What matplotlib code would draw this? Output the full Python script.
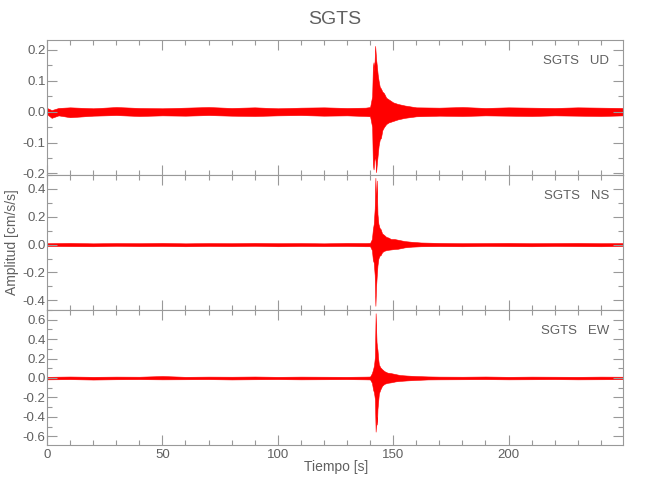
import numpy as np
import matplotlib.pyplot as plt
from matplotlib.ticker import MultipleLocator

plt.rcParams['font.family'] = ['Liberation Sans', 'DejaVu Sans']

# estacion y componentes
station = 'SGTS'
comps = ['UD', 'NS', 'EW']

# envolventes (tiempo [s], max y min [cm/s/s])
t_ud = [0, 2, 5, 10, 20, 30, 40, 50, 60, 70, 80, 90, 100, 110, 120, 130, 138, 140, 140.9, 141.2, 141.5, 141.8,
        142.2, 142.6, 142.9, 143.3, 143.7, 144.2, 144.7, 145.3, 146, 147, 148, 150, 152, 155, 160, 170, 180,
        190, 200, 210, 220, 230, 240, 250]
up_ud = [0.012, 0.005, 0.012, 0.014, 0.011, 0.015, 0.012, 0.011, 0.013, 0.015, 0.012, 0.014, 0.011, 0.013,
         0.014, 0.012, 0.013, 0.015, 0.05, 0.145, 0.16, 0.13, 0.213, 0.17, 0.15, 0.12, 0.1, 0.08, 0.075, 0.065,
         0.06, 0.045, 0.04, 0.03, 0.025, 0.02, 0.014, 0.013, 0.015, 0.012, 0.014, 0.013, 0.012, 0.014, 0.013, 0.012]
lo_ud = [-0.008, -0.02, -0.012, -0.018, -0.013, -0.011, -0.014, -0.012, -0.013, -0.011, -0.013, -0.014,
         -0.012, -0.011, -0.013, -0.012, -0.014, -0.015, -0.05, -0.17, -0.187, -0.16, -0.14, -0.196, -0.17,
         -0.14, -0.11, -0.09, -0.085, -0.06, -0.05, -0.04, -0.035, -0.03, -0.025, -0.02, -0.015, -0.013,
         -0.014, -0.012, -0.013, -0.014, -0.012, -0.013, -0.014, -0.012]

t_ns = [0, 10, 20, 30, 40, 50, 60, 70, 80, 90, 100, 110, 120, 130, 138, 140, 140.8, 141.2, 141.6, 142.0,
        142.3, 142.6, 142.9, 143.2, 143.6, 144.1, 144.6, 145.2, 146, 147, 148, 149, 150.5, 152, 155, 158,
        162, 170, 180, 190, 200, 210, 220, 230, 240, 250]
up_ns = [0.01, 0.012, 0.009, 0.011, 0.01, 0.012, 0.009, 0.011, 0.01, 0.012, 0.01, 0.011, 0.009, 0.012,
         0.011, 0.012, 0.04, 0.11, 0.15, 0.26, 0.48, 0.27, 0.46, 0.22, 0.15, 0.12, 0.11, 0.08, 0.07, 0.055,
         0.05, 0.04, 0.04, 0.035, 0.025, 0.02, 0.015, 0.012, 0.01, 0.011, 0.012, 0.01, 0.011, 0.012, 0.01, 0.011]
lo_ns = [-0.01, -0.011, -0.012, -0.009, -0.011, -0.01, -0.012, -0.01, -0.011, -0.009, -0.012, -0.01,
         -0.011, -0.01, -0.012, -0.012, -0.04, -0.11, -0.13, -0.22, -0.44, -0.3, -0.22, -0.15, -0.1, -0.08,
         -0.075, -0.055, -0.045, -0.04, -0.037, -0.035, -0.032, -0.03, -0.02, -0.015, -0.012, -0.011, -0.012,
         -0.01, -0.011, -0.012, -0.01, -0.011, -0.012, -0.01]

t_ew = [0, 10, 20, 30, 40, 50, 60, 70, 80, 90, 100, 110, 120, 130, 138, 140, 140.8, 141.3, 141.7, 142.1,
        142.4, 142.8, 143.0, 143.2, 143.5, 143.8, 144.4, 145.2, 146.2, 147.5, 149, 151, 153, 156, 160, 165,
        170, 180, 190, 200, 210, 220, 230, 240, 250]
up_ew = [0.012, 0.015, 0.012, 0.014, 0.013, 0.02, 0.012, 0.014, 0.013, 0.015, 0.012, 0.014, 0.013, 0.012,
         0.014, 0.015, 0.05, 0.09, 0.13, 0.22, 0.667, 0.37, 0.32, 0.29, 0.2, 0.14, 0.11, 0.09, 0.07, 0.055,
         0.05, 0.04, 0.03, 0.025, 0.02, 0.016, 0.014, 0.013, 0.015, 0.012, 0.014, 0.013, 0.012, 0.014, 0.013]
lo_ew = [-0.014, -0.012, -0.016, -0.013, -0.012, -0.014, -0.013, -0.012, -0.015, -0.013, -0.012, -0.014,
         -0.013, -0.012, -0.014, -0.015, -0.05, -0.12, -0.15, -0.22, -0.553, -0.4, -0.48, -0.32, -0.24, -0.16,
         -0.12, -0.08, -0.06, -0.05, -0.045, -0.035, -0.03, -0.025, -0.02, -0.015, -0.014, -0.013, -0.012,
         -0.014, -0.013, -0.012, -0.014, -0.013, -0.012]

traces = [(t_ud, up_ud, lo_ud), (t_ns, up_ns, lo_ns), (t_ew, up_ew, lo_ew)]

ylims = [(-0.205, 0.232), (-0.47, 0.50), (-0.69, 0.70)]
ymajor = [0.1, 0.2, 0.2]
yminor = [0.05, 0.1, 0.1]

gris = '#999999'
texto = '#606060'

fig = plt.figure(figsize=(6.5, 5), dpi=100)
bottoms = [0.65, 0.38, 0.11]

for i in range(3):
    ax = fig.add_axes([0.0723, bottoms[i], 0.8862, 0.27])
    t, up, lo = traces[i]
    ax.fill_between(t, lo, up, color='red', lw=0.4, edgecolor='red')
    ax.set_xlim(0, 249.6)
    ax.set_ylim(*ylims[i])
    ax.xaxis.set_major_locator(MultipleLocator(50))
    ax.xaxis.set_minor_locator(MultipleLocator(10))
    ax.yaxis.set_major_locator(MultipleLocator(ymajor[i]))
    ax.yaxis.set_minor_locator(MultipleLocator(yminor[i]))
    ax.yaxis.set_major_formatter(lambda v, p: f'{v:.1f}')
    ax.tick_params(which='both', direction='in', top=True, right=True, color=gris, width=0.8,
                   labelcolor=texto, labelsize=9.5)
    ax.tick_params(which='major', length=7)
    ax.tick_params(which='minor', length=3.6)
    ax.tick_params(axis='y', pad=1)
    ax.tick_params(axis='x', pad=3)
    for s in ax.spines.values():
        s.set_color(gris)
        s.set_linewidth(0.8)
    if i < 2:
        ax.set_xticklabels([])
    ax.text(0.976, 0.845, station + '   ' + comps[i], transform=ax.transAxes, ha='right', va='center',
            color=texto, fontsize=9.5)

fig.text(0.515, 0.96, station, ha='center', va='center', color=texto, fontsize=14)
fig.text(0.517, 0.066, 'Tiempo [s]', ha='center', va='center', color=texto, fontsize=10)
fig.text(0.019, 0.516, 'Amplitud [cm/s/s]', ha='center', va='center', rotation=90, color=texto, fontsize=10)

plt.savefig('out.png', dpi=100)
